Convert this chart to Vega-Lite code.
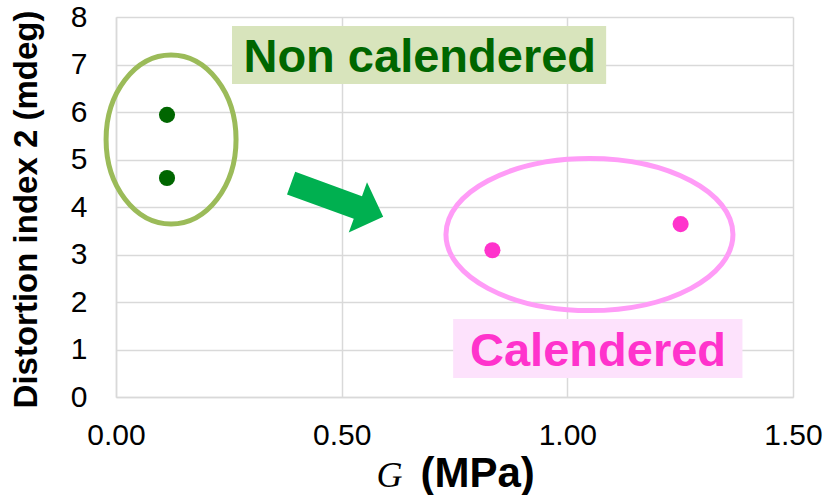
{
  "$schema": "https://vega.github.io/schema/vega-lite/v6.json",
  "autosize": "none",
  "width": 677,
  "height": 380,
  "padding": {"left": 116, "top": 17, "right": 32, "bottom": 98},
  "background": "white",
  "config": {
    "view": {"stroke": null},
    "font": "Liberation Sans",
    "axis": {
      "labelFont": "Liberation Sans",
      "labelFontSize": 30,
      "labelColor": "#000000",
      "titleFont": "Liberation Sans",
      "titleColor": "#000000",
      "ticks": false,
      "gridColor": "#d9d9d9",
      "gridWidth": 1.5,
      "domainColor": "#d9d9d9",
      "domainWidth": 1.5
    }
  },
  "resolve": {"axis": {"x": "independent", "y": "independent"}},
  "layer": [
    {
      "data": {"values": [{}]},
      "mark": {
        "type": "point",
        "shape": "M -0.769 0 C -0.769 -0.552 -0.425 -1 0 -1 C 0.425 -1 0.769 -0.552 0.769 0 C 0.769 0.552 0.425 1 0 1 C -0.425 1 -0.769 0.552 -0.769 0 Z",
        "size": 28561,
        "filled": false,
        "stroke": "#9bbb59",
        "strokeWidth": 5,
        "opacity": 1
      },
      "encoding": {
        "x": {"datum": 0.122, "type": "quantitative", "scale": {"domain": [0, 1.5]}, "axis": null},
        "y": {"datum": 5.42, "type": "quantitative", "scale": {"domain": [0, 8]}, "axis": null}
      }
    },
    {
      "data": {"values": [{}]},
      "mark": {
        "type": "point",
        "shape": "M -1 0 C -1 -0.293 -0.552 -0.53 0 -0.53 C 0.552 -0.53 1 -0.293 1 0 C 1 0.293 0.552 0.53 0 0.53 C -0.552 0.53 -1 0.293 -1 0 Z",
        "size": 82369,
        "filled": false,
        "stroke": "#ff9cf7",
        "strokeWidth": 5,
        "opacity": 1
      },
      "encoding": {
        "x": {"datum": 1.049, "type": "quantitative", "scale": {"domain": [0, 1.5]}, "axis": null},
        "y": {"datum": 3.42, "type": "quantitative", "scale": {"domain": [0, 8]}, "axis": null}
      }
    },
    {
      "data": {"values": [{}]},
      "mark": {
        "type": "point",
        "shape": "M -1 -0.245 L 0.45 -0.245 L 0.45 -0.545 L 1 0 L 0.45 0.545 L 0.45 0.245 L -1 0.245 Z",
        "size": 9604,
        "angle": 20,
        "filled": true,
        "fill": "#00b050",
        "strokeWidth": 0,
        "opacity": 1
      },
      "encoding": {
        "x": {
          "datum": 0.49,
          "type": "quantitative",
          "scale": {"domain": [0, 1.5]},
          "axis": {
            "orient": "bottom",
            "title": "G",
            "labels": false,
            "ticks": false,
            "domain": false,
            "grid": false,
            "titleFont": "Liberation Serif",
            "titleFontStyle": "italic",
            "titleFontWeight": "normal",
            "titleFontSize": 36,
            "titleX": 260,
            "titleY": 89,
            "titleAlign": "left",
            "titleBaseline": "alphabetic"
          }
        },
        "y": {"datum": 4.15, "type": "quantitative", "scale": {"domain": [0, 8]}, "axis": null}
      }
    },
    {
      "data": {"values": [{}]},
      "mark": {"type": "rect", "fill": "#d8e4bc"},
      "encoding": {
        "x": {"datum": 0.257, "type": "quantitative", "scale": {"domain": [0, 1.5]}, "axis": null},
        "x2": {"datum": 1.086},
        "y": {"datum": 7.81, "type": "quantitative", "scale": {"domain": [0, 8]}, "axis": null},
        "y2": {"datum": 6.59}
      }
    },
    {
      "data": {"values": [{}]},
      "mark": {"type": "rect", "fill": "#fde2fc"},
      "encoding": {
        "x": {"datum": 0.747, "type": "quantitative", "scale": {"domain": [0, 1.5]}, "axis": null},
        "x2": {"datum": 1.388},
        "y": {"datum": 1.64, "type": "quantitative", "scale": {"domain": [0, 8]}, "axis": null},
        "y2": {"datum": 0.4}
      }
    },
    {
      "data": {"values": [{}]},
      "mark": {"type": "text", "text": "Non calendered", "font": "Liberation Sans", "fontWeight": "bold", "fontSize": 47, "fill": "#006600", "align": "center", "baseline": "alphabetic"},
      "encoding": {
        "x": {"datum": 0.673, "type": "quantitative", "scale": {"domain": [0, 1.5]}, "axis": null},
        "y": {"datum": 6.84, "type": "quantitative", "scale": {"domain": [0, 8]}, "axis": null}
      }
    },
    {
      "data": {"values": [{}]},
      "mark": {"type": "text", "text": "Calendered", "font": "Liberation Sans", "fontWeight": "bold", "fontSize": 47, "fill": "#ff33cc", "align": "center", "baseline": "alphabetic"},
      "encoding": {
        "x": {"datum": 1.068, "type": "quantitative", "scale": {"domain": [0, 1.5]}, "axis": null},
        "y": {"datum": 0.65, "type": "quantitative", "scale": {"domain": [0, 8]}, "axis": null}
      }
    },
    {
      "data": {
        "values": [
          {"G": 0.113, "D": 5.94, "sample": "Non calendered"},
          {"G": 0.113, "D": 4.61, "sample": "Non calendered"},
          {"G": 0.834, "D": 3.09, "sample": "Calendered"},
          {"G": 1.251, "D": 3.64, "sample": "Calendered"}
        ]
      },
      "mark": {"type": "circle", "size": 260, "opacity": 1},
      "encoding": {
        "x": {
          "field": "G",
          "type": "quantitative",
          "scale": {"domain": [0, 1.5]},
          "axis": {
            "orient": "bottom",
            "values": [0, 0.5, 1, 1.5],
            "format": ".2f",
            "grid": true,
            "labelPadding": 23,
            "labelFlush": false,
            "title": "(MPa)",
            "titleFontSize": 42,
            "titleFontWeight": "bold",
            "titleX": 304,
            "titleY": 89,
            "titleAlign": "left",
            "titleBaseline": "alphabetic"
          }
        },
        "y": {
          "field": "D",
          "type": "quantitative",
          "scale": {"domain": [0, 8]},
          "axis": {
            "orient": "left",
            "values": [0, 1, 2, 3, 4, 5, 6, 7, 8],
            "grid": true,
            "labelPadding": 29,
            "labelFlush": false,
            "title": "Distortion index 2 (mdeg)",
            "titleFontSize": 33,
            "titleFontWeight": "bold",
            "titleX": -80,
            "titleY": 192,
            "titleAngle": 270,
            "titleAlign": "center",
            "titleBaseline": "alphabetic"
          }
        },
        "color": {
          "field": "sample",
          "type": "nominal",
          "scale": {"domain": ["Non calendered", "Calendered"], "range": ["#006600", "#ff33cc"]},
          "legend": null
        }
      }
    }
  ]
}
